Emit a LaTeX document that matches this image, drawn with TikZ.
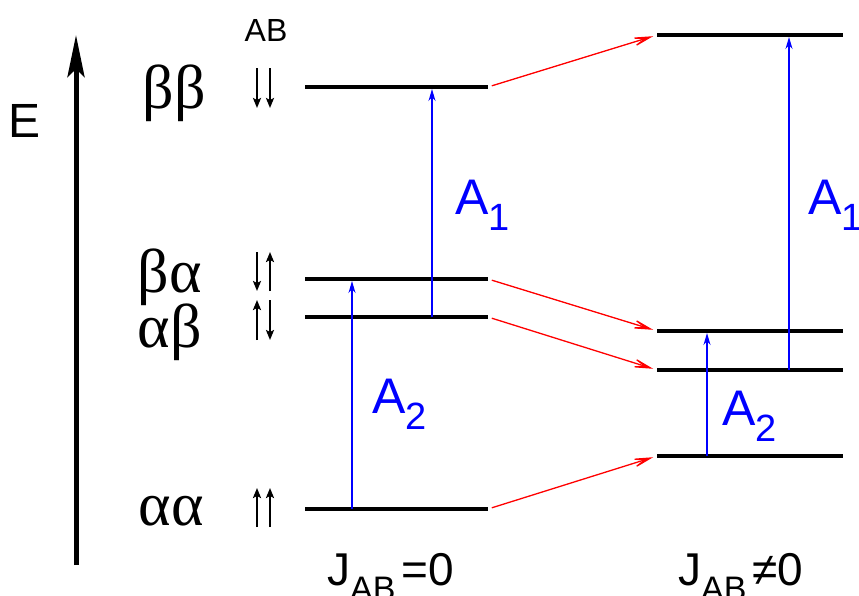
\documentclass[tikz,border=0pt]{standalone}
\usepackage{fontspec}
\setmainfont{Liberation Sans}
\newfontfamily\greekfont{Liberation Serif}
\usetikzlibrary{arrows.meta}

\newcommand{\lowsub}[2][34]{\raisebox{-0.33em}{\fontsize{#1}{#1}\selectfont #2}}

\begin{document}
\begin{tikzpicture}[x=1pt, y=-1pt,
  every node/.style={inner sep=0pt},
  level/.style={line width=4.5pt},
  trans/.style={-{Stealth[length=12pt, width=7pt]}, blue, line width=1.3pt, shorten >=2pt},
  jshift/.style={-{Stealth[length=30pt, width=14pt, inset=20pt]}, red, line width=1.3pt, shorten <=4pt, shorten >=4pt},
  spin/.style={-{Stealth[length=10pt, width=8pt, inset=2pt]}, line width=2pt}]
  \useasboundingbox (0,0) rectangle (859,595);

  % Energy axis
  \coordinate (E-bot) at (76,565);
  \coordinate (E-top) at (76,35);
  \draw[line width=5pt, -{Stealth[length=42pt, width=17pt, inset=8pt]}] (E-bot) -- (E-top);
  \node (E) at (25,121) {\fontsize{48}{48}\selectfont E};

  % Levels, J_AB = 0 (left) and J_AB != 0 (right)
  \foreach \name/\yl/\yr in {bb/87/35, ba/279/331, ab/317/370, aa/509/456} {
    \coordinate (\name-w) at (305,\yl);
    \coordinate (\name-e) at (488,\yl);
    \coordinate (\name-w2) at (657,\yr);
    \coordinate (\name-e2) at (843,\yr);
    \draw[level] (\name-w) -- (\name-e);
    \draw[level] (\name-w2) -- (\name-e2);
    \draw[jshift] (\name-e) -- (\name-w2);
  }

  % Spin labels
  \node[anchor=base east] (lbl-bb) at (206,108) {\fontsize{62}{62}\selectfont\greekfont ββ};
  \node[anchor=base east] (lbl-ba) at (202,292) {\fontsize{62}{62}\selectfont\greekfont βα};
  \node[anchor=base east] (lbl-ab) at (202,347) {\fontsize{62}{62}\selectfont\greekfont αβ};
  \node[anchor=base east] (lbl-aa) at (204,525) {\fontsize{62}{62}\selectfont\greekfont αα};
  \node (lbl-AB) at (266,30) {\fontsize{32}{32}\selectfont AB};

  % Spin arrows
  \foreach \x/\ya/\yb in {
    257/68/108, 270/68/108,
    257/252/291, 270/291/252,
    257/340/300, 270/300/340,
    257/527/488, 270/527/488
  } {
    \draw[spin] (\x,\ya) -- (\x,\yb);
  }

  % Transitions
  \draw[trans] ([xshift=47pt]aa-w) -- ([xshift=47pt]ba-w);
  \draw[trans] ([xshift=127pt]ab-w) -- ([xshift=127pt]bb-w);
  \draw[trans] ([xshift=50pt]aa-w2) -- ([xshift=50pt]ba-w2);
  \draw[trans] ([xshift=132pt]ab-w2) -- ([xshift=132pt]bb-w2);
  \node[blue, anchor=base west] (A1-l) at (455,214) {\fontsize{50}{50}\selectfont A\lowsub[38]{1}};
  \node[blue, anchor=base west] (A2-l) at (372,413) {\fontsize{50}{50}\selectfont A\lowsub[38]{2}};
  \node[blue, anchor=base west] (A1-r) at (808,214) {\fontsize{50}{50}\selectfont A\lowsub[38]{1}};
  \node[blue, anchor=base west] (A2-r) at (722,425) {\fontsize{50}{50}\selectfont A\lowsub[38]{2}};

  % Coupling
  \node[anchor=base west] (J-l) at (327,585) {\fontsize{46}{46}\selectfont J\lowsub{AB}\hspace{6pt}=0};
  \node[anchor=base west] (J-r) at (678,585) {\fontsize{46}{46}\selectfont J\lowsub{AB}\hspace{6pt}≠0};
\end{tikzpicture}
\end{document}
